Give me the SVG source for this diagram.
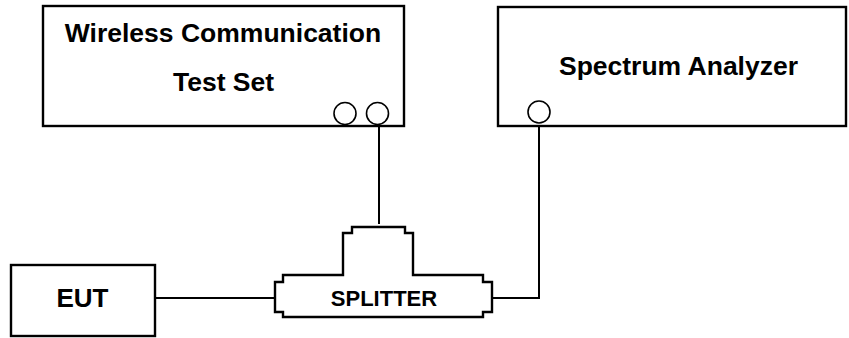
<svg xmlns="http://www.w3.org/2000/svg" width="849" height="338" viewBox="0 0 849 338">
<style>
.box{fill:#fff;stroke:#000;stroke-width:2.4}
.port{fill:#fff;stroke:#000;stroke-width:1.6}
.wire{fill:none;stroke:#000;stroke-width:2}
.t{font-family:"Liberation Sans",Arial,sans-serif;font-weight:bold;fill:#000;text-anchor:middle}
</style>
<rect width="849" height="338" fill="#fff"/>
<g id="connectors">
<path class="wire" d="M379,125 V224"/>
<path class="wire" d="M539,124 V298 H492"/>
<path class="wire" d="M155,298 H275"/>
</g>
<g id="test-set">
<rect class="box" x="43" y="6" width="361" height="120" stroke="#333"/>
<text class="t" x="223" y="42" font-size="26.5">Wireless Communication</text>
<text class="t" x="223.5" y="91" font-size="26.5">Test Set</text>
<circle class="port" cx="345" cy="113.5" r="11"/>
<circle class="port" cx="377.5" cy="113.5" r="11"/>
</g>
<g id="spectrum-analyzer">
<rect class="box" x="498" y="7" width="348" height="119"/>
<text class="t" x="678.5" y="75" font-size="26.5">Spectrum Analyzer</text>
<circle class="port" cx="539" cy="112" r="11"/>
</g>
<g id="eut">
<rect class="box" x="11" y="265" width="144" height="71"/>
<text class="t" x="82.5" y="307" font-size="26">EUT</text>
</g>
<g id="splitter">
<path class="box" d="M283,275 H343 V233 H352 V227 H405 V233 H413 V275 H483 V282 H492 V312 H483 V317 H283 V312 H275 V282 H283 Z"/>
<text class="t" x="384" y="306" font-size="22">SPLITTER</text>
</g>
</svg>
